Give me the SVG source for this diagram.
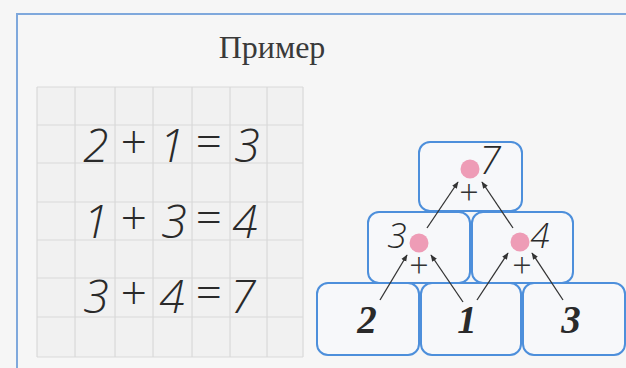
<svg xmlns="http://www.w3.org/2000/svg" width="626" height="368" viewBox="0 0 626 368">
<style>
.frame{fill:none;stroke:#7fa8dc;stroke-width:2}
.grid{stroke:#d9d9d9;stroke-width:1.2;fill:none}
.eq{font-family:"Open Sans","DejaVu Sans",sans-serif;font-size:46px;font-style:italic;fill:#2a2a2a;text-anchor:middle;font-weight:300}
.box{fill:#f7f8fa;stroke:#4d8fdb;stroke-width:2}
.dot{fill:#ee9cb6}
.hw{font-family:"Open Sans","DejaVu Sans",sans-serif;font-size:35px;font-style:italic;fill:#2a2a2a;text-anchor:middle;font-weight:300}
.pl{font-family:"Open Sans","DejaVu Sans",sans-serif;font-size:34px;fill:#333;text-anchor:middle;font-weight:300}
.big{font-family:"Liberation Serif",serif;font-size:39px;font-style:italic;font-weight:bold;fill:#2a2a2a;text-anchor:middle}
.con{stroke:#333;stroke-width:1.3;fill:none;marker-end:url(#ah)}
</style>
<defs>
<marker id="ah" viewBox="0 0 10 10" refX="9" refY="5" markerWidth="7" markerHeight="7" orient="auto" markerUnits="userSpaceOnUse">
<path d="M0,1 L10,5 L0,9 z" fill="#333"/>
</marker>
</defs>
<rect x="0" y="0" width="626" height="368" fill="#f6f6f6"/>
<path class="frame" d="M17,368 L17,14 L626,14"/>
<g id="title">
<text x="272" y="58" font-family="Liberation Serif,serif" font-size="32" fill="#3a3a3a" text-anchor="middle">Пример</text>
</g>
<g id="grid">
<rect x="37" y="87" width="266" height="270" fill="#f1f1f1"/>
<path class="grid" d="M37,87 V357 M75,87 V357 M115,87 V357 M153,87 V357 M192,87 V357 M230,87 V357 M267,87 V357 M303,87 V357 M37,87 H303 M37,125 H303 M37,163 H303 M37,202 H303 M37,240 H303 M37,278 H303 M37,317 H303 M37,357 H303"/>
</g>
<g id="equations">
<g class="eq">
<text x="96" y="162">2</text><text x="133" y="158">+</text><text x="172" y="162">1</text><text x="208" y="158">=</text><text x="247" y="162">3</text>
<text x="96" y="238">1</text><text x="133" y="234">+</text><text x="174" y="238">3</text><text x="208" y="234">=</text><text x="245" y="238">4</text>
<text x="96" y="313">3</text><text x="133" y="309">+</text><text x="172" y="313">4</text><text x="208" y="309">=</text><text x="243" y="313">7</text>
</g>
</g>
<g id="box-top">
<rect class="box" x="419" y="142" width="103" height="69" rx="11"/>
<circle class="dot" cx="470" cy="169" r="9.5"/>
<text class="hw" x="490" y="174" style="font-size:39px">7</text>
<text class="pl" x="469" y="205">+</text>
</g>
<g id="box-mid-left">
<rect class="box" x="368" y="212" width="102" height="71" rx="11"/>
<circle class="dot" cx="419" cy="243" r="9.5"/>
<text class="hw" x="397" y="248">3</text>
<text class="pl" x="419" y="278">+</text>
</g>
<g id="box-mid-right">
<rect class="box" x="472" y="212" width="101" height="71" rx="11"/>
<circle class="dot" cx="520" cy="242" r="9.5"/>
<text class="hw" x="540" y="248">4</text>
<text class="pl" x="522" y="278">+</text>
</g>
<g id="box-bottom-left">
<rect class="box" x="317" y="283" width="102" height="72" rx="11"/>
<text class="big" x="367" y="333">2</text>
</g>
<g id="box-bottom-mid">
<rect class="box" x="421" y="283" width="100" height="72" rx="11"/>
<text class="big" x="467" y="333">1</text>
</g>
<g id="box-bottom-right">
<rect class="box" x="523" y="283" width="102" height="72" rx="11"/>
<text class="big" x="571" y="333">3</text>
</g>
<g id="connectors">
<line class="con" x1="380" y1="300" x2="407" y2="255"/>
<line class="con" x1="463" y1="302" x2="431" y2="255"/>
<line class="con" x1="477" y1="300" x2="508" y2="253"/>
<line class="con" x1="563" y1="300" x2="532" y2="253"/>
<line class="con" x1="427" y1="228" x2="458" y2="182"/>
<line class="con" x1="513" y1="228" x2="482" y2="182"/>
</g>
</svg>
